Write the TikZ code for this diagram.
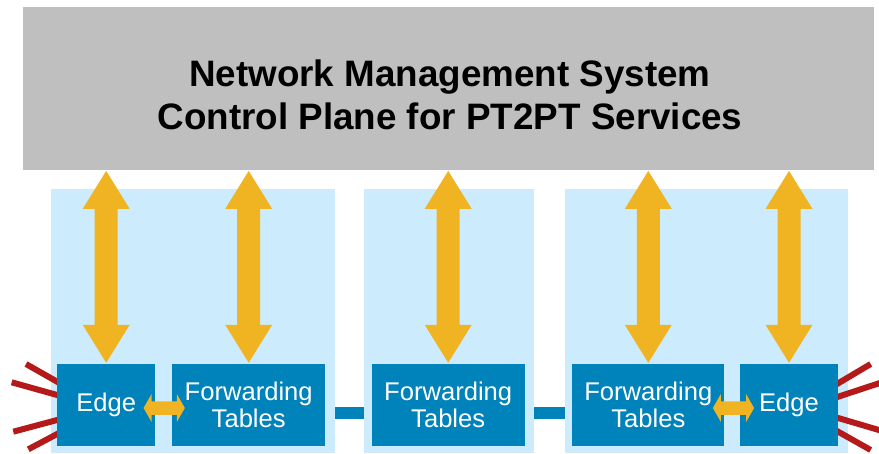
\documentclass[tikz,border=0pt]{standalone}
\usepackage{fontspec}
\setmainfont{Liberation Sans}
\usetikzlibrary{calc}

\definecolor{nmsgray}{RGB}{191,191,191}
\definecolor{panelblue}{RGB}{204,235,252}
\definecolor{boxblue}{RGB}{0,130,186}
\definecolor{linkorange}{RGB}{240,180,35}
\definecolor{faultred}{RGB}{180,26,26}

\pgfdeclarelayer{bg}
\pgfdeclarelayer{mid}
\pgfsetlayers{bg,mid,main}

% vertical double arrow: #1 = top tip, #2 = bottom tip (named coordinates)
\newcommand\vlink[2]{%
  \fill[linkorange] let \p1=(#1), \p2=(#2) in
    (\x1,\y1) -- (\x1+23.5pt,\y1-38pt) -- (\x1+11.5pt,\y1-38pt)
    -- (\x1+11.5pt,\y2+38pt) -- (\x1+23.5pt,\y2+38pt) -- (\x1,\y2)
    -- (\x1-23.5pt,\y2+38pt) -- (\x1-11.5pt,\y2+38pt)
    -- (\x1-11.5pt,\y1-38pt) -- (\x1-23.5pt,\y1-38pt) -- cycle;}

% horizontal double arrow: #1 = left tip, #2 = right tip (named coordinates)
\newcommand\hlink[2]{%
  \fill[linkorange] let \p1=(#1), \p2=(#2) in
    (\x1,\y1) -- (\x1+8pt,\y1+14pt) -- (\x1+8pt,\y1+6.75pt)
    -- (\x2-8pt,\y1+6.75pt) -- (\x2-8pt,\y1+14pt) -- (\x2,\y1)
    -- (\x2-8pt,\y1-14pt) -- (\x2-8pt,\y1-6.75pt)
    -- (\x1+8pt,\y1-6.75pt) -- (\x1+8pt,\y1-14pt) -- cycle;}

\begin{document}
\begin{tikzpicture}[x=1pt,y=-1pt,
  nms/.style={fill=nmsgray, inner sep=0pt},
  title/.style={inner sep=0pt, align=center,
    font=\bfseries\fontsize{36.8}{43}\selectfont},
  box/.style={fill=boxblue, text=white, inner sep=0pt, minimum height=82pt,
    align=center, font=\fontsize{25.6}{26.7}\selectfont},
  bar/.style={boxblue, line width=12pt},
  fault/.style={faultred, line width=6pt}]
\useasboundingbox (0,0) rectangle (879,453);

% management system
\node[nms, minimum width=851pt, minimum height=163pt] (nms) at (448.5,88.5) {};
\node[title] (ttl) at (450,95.3) {Network Management System\\Control Plane for PT2PT Services};

% network elements
\node[box, minimum width=97.7pt] (e1) at (106.2,405) {Edge};
\node[box, minimum width=152.7pt] (f1) at (248.7,405) {Forwarding\\Tables};
\node[box, minimum width=153pt] (f2) at (448.2,405) {Forwarding\\Tables};
\node[box, minimum width=152pt] (f3) at (648.3,405) {Forwarding\\Tables};
\node[box, minimum width=98pt] (e2) at (789,405) {Edge};

% domains and inter-domain links
\begin{pgfonlayer}{bg}
  \draw[bar] ($(f1.east)+(0,8)$) -- ($(f2.west)+(0,8)$);
  \draw[bar] ($(f2.east)+(0,8)$) -- ($(f3.west)+(0,8)$);
  \fill[panelblue] (51,189) rectangle (335,453);
  \fill[panelblue] (364,189) rectangle (533.5,453);
  \fill[panelblue] (565,189) rectangle (848,453);
\end{pgfonlayer}

% external links at the edges
\begin{pgfonlayer}{mid}
  \coordinate (lo1) at (26,364);
  \coordinate (lo2) at (11.7,382.3);
  \coordinate (lo3) at (13.3,431.7);
  \coordinate (lo4) at (28.3,449.3);
  \coordinate (li1) at ($(e1.west)+(0,-23.3)$);
  \coordinate (li2) at ($(e1.west)+(0,-10)$);
  \coordinate (li3) at ($(e1.west)+(0,15)$);
  \coordinate (li4) at ($(e1.west)+(0,29)$);
  \coordinate (ro1) at (870.7,364);
  \coordinate (ro2) at (885,381.3);
  \coordinate (ro3) at (885,431.8);
  \coordinate (ro4) at (870.7,450);
  \coordinate (ri1) at ($(e2.east)+(0,-21.7)$);
  \coordinate (ri2) at ($(e2.east)+(0,-8.3)$);
  \coordinate (ri3) at ($(e2.east)+(0,13)$);
  \coordinate (ri4) at ($(e2.east)+(0,26.7)$);
  \foreach \i in {1,2,3,4}{
    \draw[fault] (lo\i) -- ($(lo\i)!1.4!(li\i)$);
    \draw[fault] (ro\i) -- ($(ro\i)!1.4!(ri\i)$);
  }
\end{pgfonlayer}

% control plane links
\coordinate (te1) at ($(nms.south -| e1.north)+(0,0.7)$);
\coordinate (te2) at ($(nms.south -| e2.north)+(0,0.7)$);
\coordinate (tf1) at ($(nms.south -| f1.north)+(0,0.7)$);
\coordinate (tf2) at ($(nms.south -| f2.north)+(0,0.7)$);
\coordinate (tf3) at ($(nms.south -| f3.north)+(0,0.7)$);
\coordinate (be1) at ($(e1.north)+(0,-1)$);
\coordinate (be2) at ($(e2.north)+(0,-1)$);
\coordinate (bf1) at ($(f1.north)+(0,-1)$);
\coordinate (bf2) at ($(f2.north)+(0,-1)$);
\coordinate (bf3) at ($(f3.north)+(0,-1)$);
\vlink{te1}{be1}
\vlink{tf1}{bf1}
\vlink{tf2}{bf2}
\vlink{tf3}{bf3}
\vlink{te2}{be2}

% local links between edge and forwarding tables
\coordinate (hl1) at ($(e1.east)+(-11.7,3)$);
\coordinate (hr1) at ($(f1.west)+(12.7,3)$);
\coordinate (hl2) at ($(f3.east)+(-11.6,3)$);
\coordinate (hr2) at ($(e2.west)+(14.3,3)$);
\hlink{hl1}{hr1}
\hlink{hl2}{hr2}
\end{tikzpicture}
\end{document}
